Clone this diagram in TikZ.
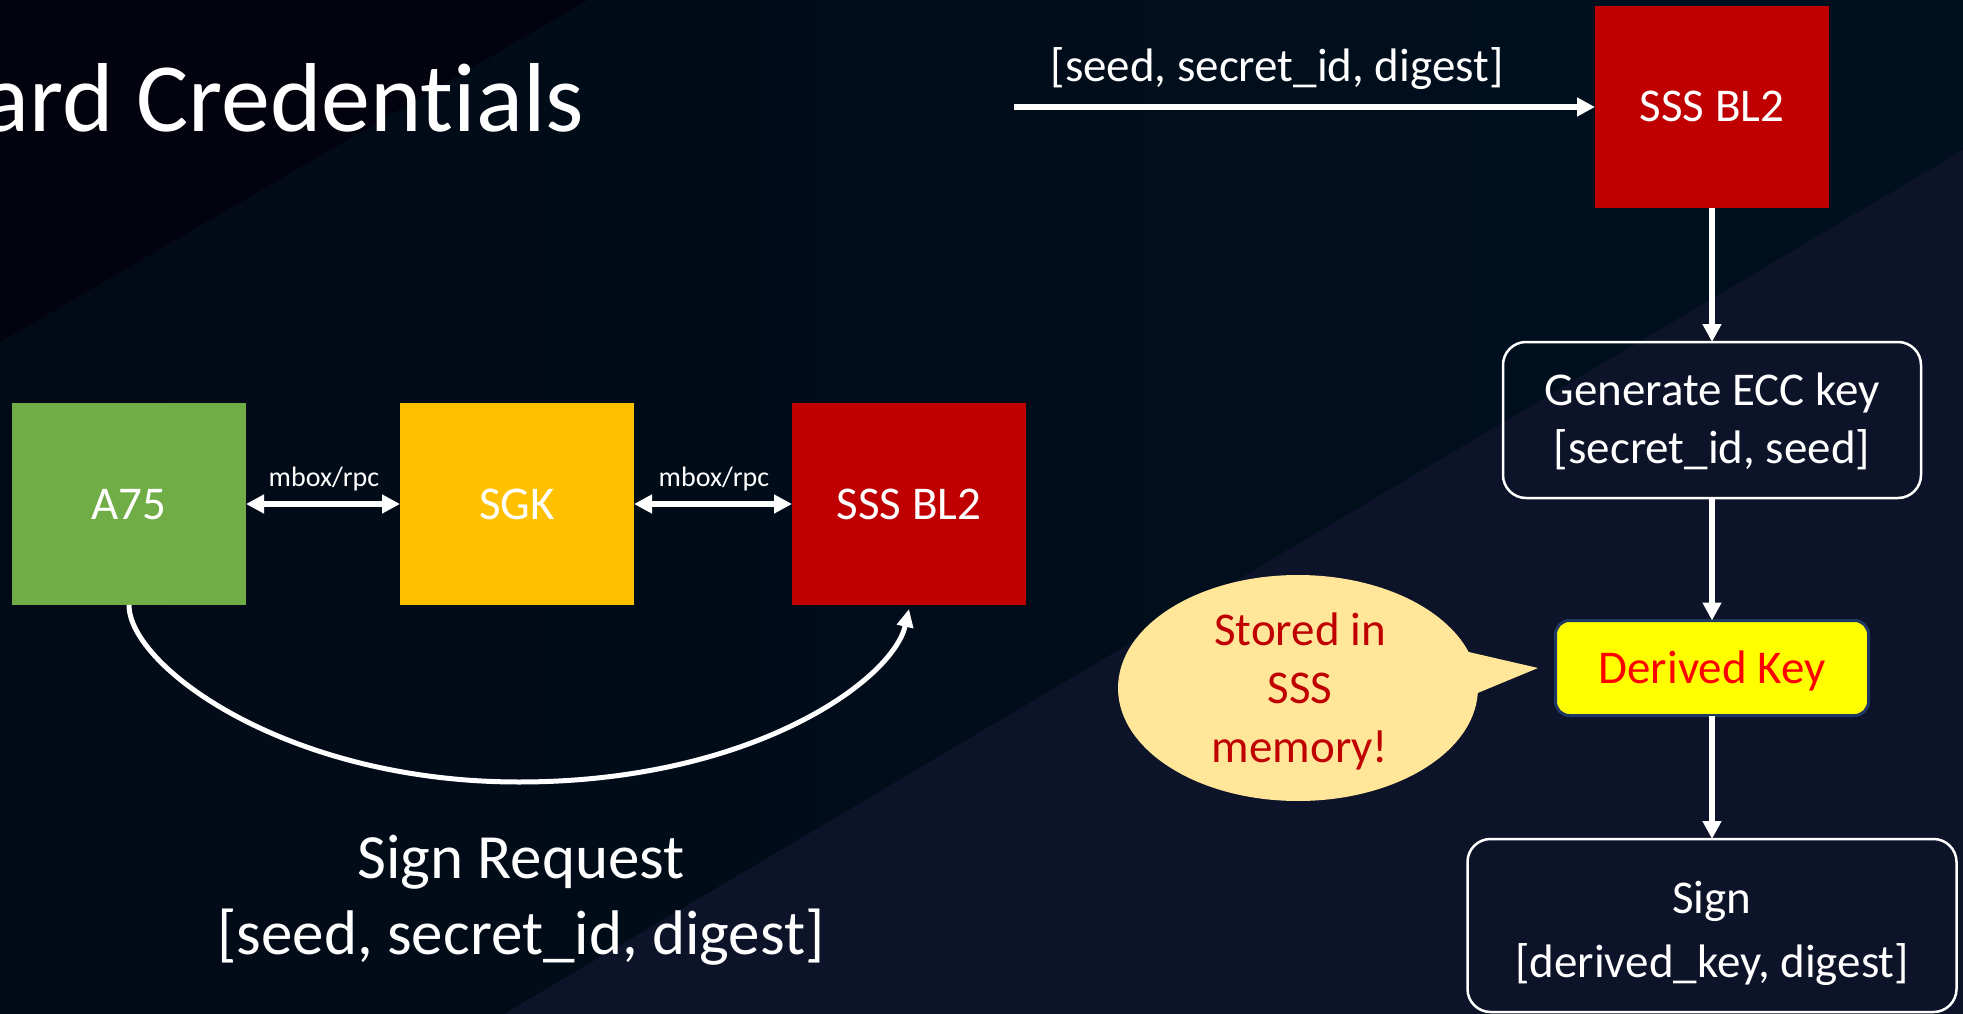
\documentclass[tikz,border=0pt]{standalone}
\usepackage{fontspec}
\setmainfont{Carlito}[Ligatures=NoCommon]
\usetikzlibrary{arrows.meta}

\definecolor{bgtop}{HTML}{03030F}
\definecolor{bgmidl}{HTML}{020A16}
\definecolor{bgmidr}{HTML}{00101F}
\definecolor{bglow}{HTML}{0D1328}
\definecolor{cgreen}{HTML}{70AD47}
\definecolor{cgold}{HTML}{FFC000}
\definecolor{cred}{HTML}{C00000}
\definecolor{cyellow}{HTML}{FFFF00}
\definecolor{ckeytext}{HTML}{FF0000}
\definecolor{cnavy}{HTML}{203864}
\definecolor{cbubble}{HTML}{FFE699}

% centred lines whose node baseline is the first line's baseline
\newcommand\twolines[2]{\begin{tabular}[t]{@{}c@{}}#1\\\relax #2\end{tabular}}
\newcommand\threelines[3]{\begin{tabular}[t]{@{}c@{}}#1\\\relax #2\\\relax #3\end{tabular}}

\begin{document}
\begin{tikzpicture}[x=1pt,y=-1pt,
  every node/.style={inner sep=0pt, outer sep=0pt, text=white},
  big/.style={font=\fontsize{47pt}{58pt}\selectfont},
  block/.style={big, minimum width=234pt, minimum height=202pt,
    text height=30pt, text depth=0pt},
  rbox/.style={draw=white, line width=2.5pt, rounded corners=23pt},
  wire/.style={draw=white, line width=6pt, -{Triangle[length=18pt,width=18pt]}},
  dwire/.style={draw=white, line width=6pt,
    {Triangle[length=18pt,width=18pt]}-{Triangle[length=18pt,width=18pt]}},
  small/.style={font=\fontsize{28pt}{30pt}\selectfont},
]
% background: dark slide with two diagonal tints
\useasboundingbox (0,0) rectangle (1963,1014);
\shade[left color=bgmidl, right color=bgmidr] (0,0) rectangle (1963,1014);
\fill[bgtop] (0,0) -- (588,0) -- (0,342) -- cycle;
\fill[bglow] (1963,150) -- (1963,1014) -- (504,1014) -- cycle;

% slide title
\node[font=\fontsize{98pt}{110pt}\selectfont, anchor=base east] (title) at (584,132) {ard Credentials};

% left: request path through the mailbox
\node[block, fill=cgreen] (a75) at (129,504) {A75};
\node[block, fill=cgold] (sgk) at (517,504) {SGK};
\node[block, fill=cred] (bl2a) at (909,504) {SSS BL2};

\draw[dwire] (a75.east) -- (sgk.west);
\draw[dwire] (sgk.east) -- (bl2a.west);
\node[small, anchor=base] (rpc1) at (324,486) {mbox/rpc};
\node[small, anchor=base] (rpc2) at (714,486) {mbox/rpc};

\coordinate (dip) at (519,782);
\draw[white, line width=5pt, -{Triangle[length=18pt,width=16pt]}]
  (a75.south) .. controls (129,666) and (286,782) .. (dip)
  .. controls (752,782) and (893,680) .. ([yshift=-4pt]bl2a.south);

\node[font=\fontsize{63pt}{76pt}\selectfont, anchor=base] (req) at (521,878)
  {\twolines{Sign Request}{[seed, secret\_id, digest]}};

% right: what SSS BL2 does with the request
\node[block, fill=cred] (bl2b) at (1712,107) {SSS BL2};
\coordinate (feed) at (1014,107);
\draw[wire] (feed) -- (bl2b.west);
\node[big, anchor=base] (args) at (1277,82) {[seed, secret\_id, digest]};

\node[rbox, minimum width=418pt, minimum height=156pt] (ecc) at (1712,420) {};
\node[big, anchor=base] (ecctxt) at (1712,405) {\twolines{Generate ECC key}{[secret\_id, seed]}};

\node[big, fill=cyellow, draw=cnavy, line width=3pt, rounded corners=14pt,
  minimum width=313pt, minimum height=95pt, text height=30pt, text depth=0pt,
  text=ckeytext] (dkey) at (1712,668) {Derived Key};

\node[rbox, minimum width=489pt, minimum height=173pt] (sign) at (1712,925.5) {};
\node[font=\fontsize{47pt}{64pt}\selectfont, anchor=base] (signtxt) at (1712,913)
  {\twolines{Sign}{[derived\_key, digest]}};

\draw[wire] (bl2b.south) -- (ecc.north);
\draw[wire] (ecc.south) -- (dkey.north);
\draw[wire] (dkey.south) -- (sign.north);

% speech bubble pointing at the derived key
\fill[cbubble] (1298,688) ++(2.5:180 and 113)
  arc[start angle=2.5, end angle=341.4, x radius=180, y radius=113]
  -- (1538,668) -- cycle;
\node[font=\fontsize{47pt}{58.5pt}\selectfont, text=cred, anchor=base] (note) at (1300,645)
  {\threelines{Stored in}{SSS}{memory!}};
\end{tikzpicture}
\end{document}
